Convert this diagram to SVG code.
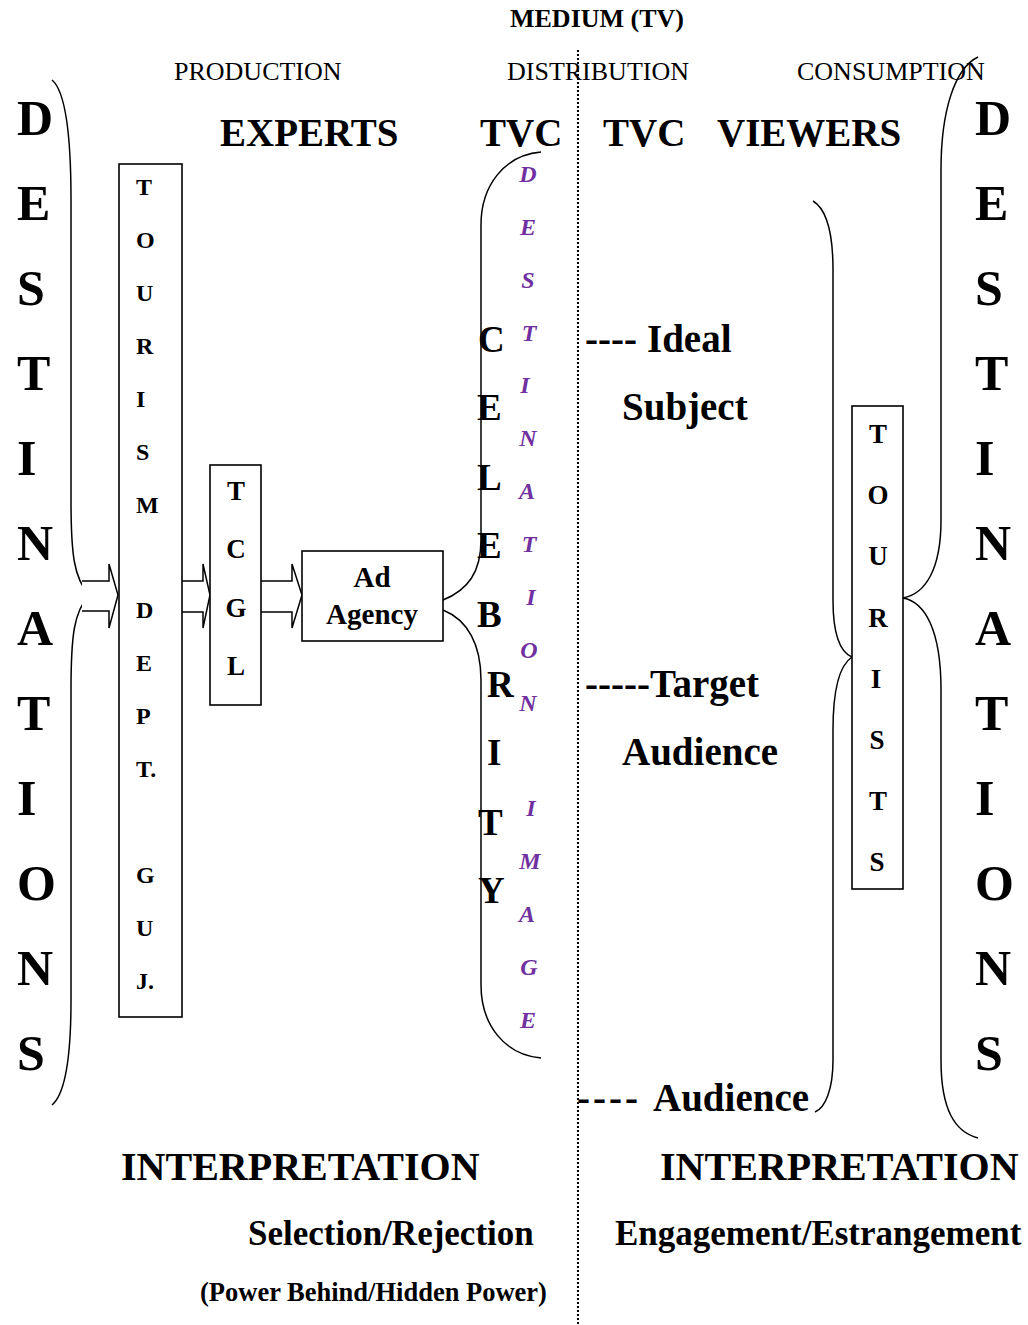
<svg xmlns="http://www.w3.org/2000/svg" width="1028" height="1325" viewBox="0 0 1028 1325">
  <style>
    text { font-family: "Liberation Serif", "Times New Roman", serif; fill: #000; }
    .b { font-weight: bold; }
    .sec { font-size: 26px; }
    .head { font-size: 39px; font-weight: bold; }
    .foot { font-size: 40px; font-weight: bold; }
    .big { font-size: 50px; font-weight: bold; }
    .cel { font-size: 37px; font-weight: bold; }
    .img { font-size: 24px; font-weight: bold; font-style: italic; fill: #7030A0; text-anchor: middle; }
    .box { fill: #fff; stroke: #000; stroke-width: 1.6; }
    .line { fill: none; stroke: #000; stroke-width: 1.5; }
    .arrow { fill: #fff; stroke: #000; stroke-width: 1.5; stroke-linejoin: miter; }
  </style>

  <!-- medium divider -->
  <line x1="578" y1="50" x2="578" y2="1325" stroke="#000" stroke-width="2" stroke-dasharray="2,2"/>

  <!-- section headers -->
  <text class="b" x="597" y="27" font-size="26" text-anchor="middle">MEDIUM (TV)</text>
  <text class="sec" x="174" y="80">PRODUCTION</text>
  <text class="sec" x="507" y="80">DISTRIBUTION</text>
  <text class="sec" x="797" y="80">CONSUMPTION</text>

  <text class="head" x="220" y="146">EXPERTS</text>
  <text class="head" x="480" y="146">TVC</text>
  <text class="head" x="603" y="146">TVC</text>
  <text class="head" x="717" y="146">VIEWERS</text>

  <!-- destinations, left column -->
  <g id="destinations-left">
    <text class="big" x="17" y="135">D</text>
    <text class="big" x="17" y="220">E</text>
    <text class="big" x="17" y="305">S</text>
    <text class="big" x="17" y="390">T</text>
    <text class="big" x="17" y="475">I</text>
    <text class="big" x="17" y="560">N</text>
    <text class="big" x="17" y="645">A</text>
    <text class="big" x="17" y="730">T</text>
    <text class="big" x="17" y="815">I</text>
    <text class="big" x="17" y="900">O</text>
    <text class="big" x="17" y="985">N</text>
    <text class="big" x="17" y="1070">S</text>
  </g>

  <!-- destinations, right column -->
  <g id="destinations-right">
    <text class="big" x="975" y="135">D</text>
    <text class="big" x="975" y="220">E</text>
    <text class="big" x="975" y="305">S</text>
    <text class="big" x="975" y="390">T</text>
    <text class="big" x="975" y="475">I</text>
    <text class="big" x="975" y="560">N</text>
    <text class="big" x="975" y="645">A</text>
    <text class="big" x="975" y="730">T</text>
    <text class="big" x="975" y="815">I</text>
    <text class="big" x="975" y="900">O</text>
    <text class="big" x="975" y="985">N</text>
    <text class="big" x="975" y="1070">S</text>
  </g>

  <!-- connectors: braces and block arrows -->
  <g id="connectors">
    <path class="line" d="M52,80 C64,90 71,130 71,200 L71,500 C71,555 74,578 89,595 C74,612 71,635 71,690 L71,1000 C71,1060 64,1095 52,1105"/>
    <polyline class="arrow" points="82,581 109,581 109,564 118,595 109,628 109,611 82,611"/>
    <polyline class="arrow" points="182,581 203,581 203,564 210,595 203,628 203,612 182,612"/>
    <polyline class="arrow" points="261,581 292,581 292,564 302,595 292,628 292,612 261,612"/>
    <path class="line" d="M443,600 C468,590 481,572 481,540 L481,225 C481,185 505,155 541,152"/>
    <path class="line" d="M443,610 C468,620 481,645 481,680 L481,985 C481,1025 505,1055 541,1058"/>
    <path class="line" d="M813,201 C828,210 833,235 833,270 L833,600 C833,635 840,652 852,657 C840,665 833,690 833,730 L833,1060 C833,1090 825,1108 815,1112"/>
    <path class="line" d="M978,57 C955,68 941,110 941,170 L941,520 C941,570 925,594 903,598 C925,602 941,630 941,690 L941,1060 C941,1110 955,1132 978,1138"/>
  </g>

  <!-- tourism department box -->
  <g id="tourism-dept">
    <rect class="box" x="119" y="164" width="63" height="853"/>
    <g class="b" font-size="24">
      <text x="136" y="195">T</text>
      <text x="136" y="248">O</text>
      <text x="136" y="301">U</text>
      <text x="136" y="354">R</text>
      <text x="136" y="407">I</text>
      <text x="136" y="460">S</text>
      <text x="136" y="513">M</text>
      <text x="136" y="618">D</text>
      <text x="136" y="671">E</text>
      <text x="136" y="724">P</text>
      <text x="136" y="777">T.</text>
      <text x="136" y="883">G</text>
      <text x="136" y="936">U</text>
      <text x="136" y="989">J.</text>
    </g>
  </g>

  <!-- TCGL box -->
  <g id="tcgl">
    <rect class="box" x="210" y="465" width="51" height="240"/>
    <g class="b" font-size="27" text-anchor="middle">
      <text x="236" y="500">T</text>
      <text x="236" y="558">C</text>
      <text x="236" y="617">G</text>
      <text x="236" y="675">L</text>
    </g>
  </g>

  <!-- ad agency box -->
  <g id="ad-agency">
    <rect class="box" x="302" y="551" width="141" height="90"/>
    <g class="b" font-size="29" text-anchor="middle">
      <text x="372" y="587">Ad</text>
      <text x="372" y="624">Agency</text>
    </g>
  </g>

  <!-- celebrity column -->
  <g id="celebrity">
    <text class="cel" x="478" y="352">C</text>
    <text class="cel" x="477" y="420">E</text>
    <text class="cel" x="477" y="490">L</text>
    <text class="cel" x="477" y="558">E</text>
    <text class="cel" x="477" y="627">B</text>
    <text class="cel" x="487" y="697">R</text>
    <text class="cel" x="487" y="765">I</text>
    <text class="cel" x="478" y="835">T</text>
    <text class="cel" x="478" y="903">Y</text>
  </g>

  <!-- destination image column -->
  <g id="destination-image">
    <text class="img" x="528" y="182">D</text>
    <text class="img" x="528" y="235">E</text>
    <text class="img" x="528" y="288">S</text>
    <text class="img" x="529" y="341">T</text>
    <text class="img" x="525" y="393">I</text>
    <text class="img" x="528" y="446">N</text>
    <text class="img" x="527" y="499">A</text>
    <text class="img" x="529" y="552">T</text>
    <text class="img" x="531" y="605">I</text>
    <text class="img" x="529" y="658">O</text>
    <text class="img" x="528" y="711">N</text>
    <text class="img" x="531" y="816">I</text>
    <text class="img" x="530" y="869">M</text>
    <text class="img" x="527" y="922">A</text>
    <text class="img" x="529" y="975">G</text>
    <text class="img" x="528" y="1028">E</text>
  </g>

  <!-- viewer positions -->
  <g id="viewer-labels" class="b" font-size="39">
    <text x="585" y="352">----<tspan x="647">Ideal</tspan></text>
    <text x="622" y="420">Subject</text>
    <text x="585" y="697">-----<tspan x="650">Target</tspan></text>
    <text x="622" y="765">Audience</text>
    <text x="577" y="1111" letter-spacing="3">----<tspan x="653" letter-spacing="0">Audience</tspan></text>
  </g>

  <!-- tourists box -->
  <g id="tourists">
    <rect class="box" x="852" y="406" width="51" height="483"/>
    <g class="b" font-size="27" text-anchor="middle">
      <text x="878" y="443">T</text>
      <text x="878" y="504">O</text>
      <text x="878" y="565">U</text>
      <text x="878" y="627">R</text>
      <text x="876" y="688">I</text>
      <text x="877" y="749">S</text>
      <text x="878" y="810">T</text>
      <text x="877" y="871">S</text>
    </g>
  </g>

  <!-- interpretation footer -->
  <text class="foot" x="121" y="1180">INTERPRETATION</text>
  <text class="foot" x="660" y="1180">INTERPRETATION</text>
  <text class="b" x="248" y="1245" font-size="35">Selection/Rejection</text>
  <text class="b" x="615" y="1245" font-size="35">Engagement/Estrangement</text>
  <text class="b" x="200" y="1301" font-size="26.5">(Power Behind/Hidden Power)</text>
</svg>
